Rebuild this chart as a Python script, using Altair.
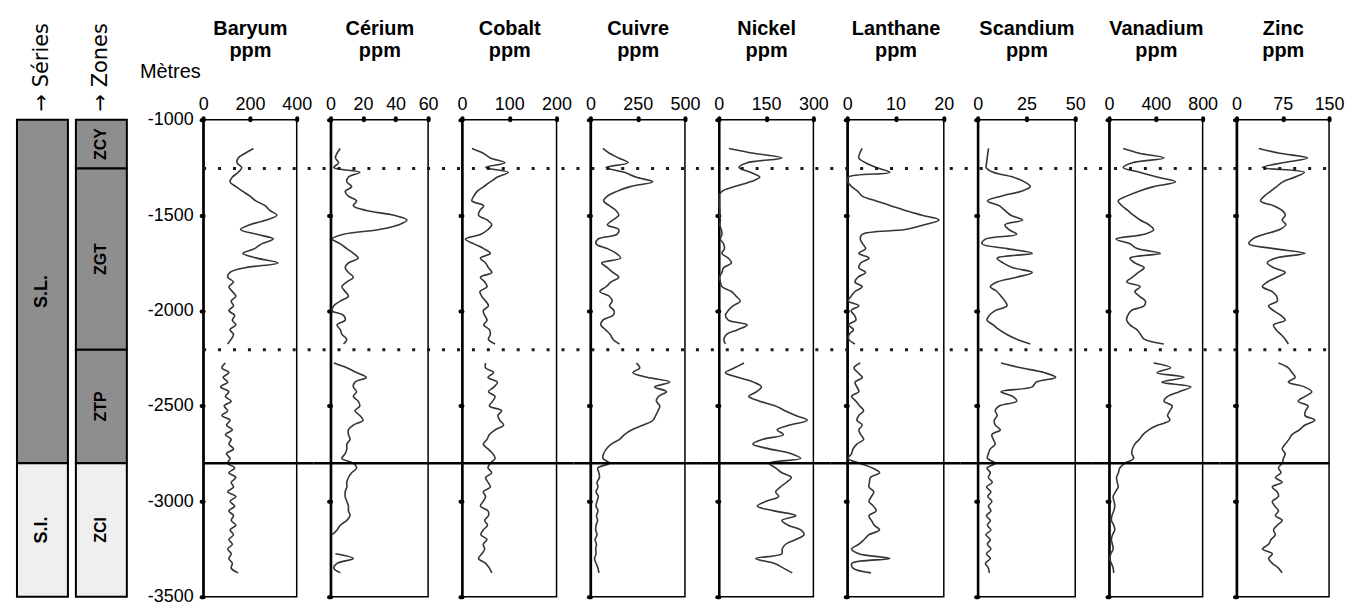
import altair as alt
import pandas as pd

N = None
FONT = "Liberation Sans"

ELEMENTS = ["Baryum", "Cérium", "Cobalt", "Cuivre", "Nickel",
            "Lanthane", "Scandium", "Vanadium", "Zinc"]
X_MAX = [400, 60, 200, 500, 300, 20, 50, 800, 150]
X_TICKS = [[0, 200, 400], [0, 20, 40, 60], [0, 100, 200], [0, 250, 500],
           [0, 150, 300], [0, 10, 20], [0, 25, 50], [0, 400, 800], [0, 75, 150]]
Y_TICKS = [-1000, -1500, -2000, -2500, -3000, -3500]

# sampling depths (m), every 25 m from -1150 to -3400
DEPTHS = list(range(-1150, -3401, -25))

BARYUM = [215, 180, 150, 145, 165, 150, 125, 115, 140, 170,
          200, 225, 265, 285, 315, 270, 200, 160, 230, 300,
          250, 220, 170, 230, 320, 180, 115, 105, 130, 110,
          125, 140, 120, 130, 110, 135, 125, 140, 115, 130,
          120, 105, N, N, N, 95, 80, 110, 85, 105,
          75, 110, 95, 120, 90, 105, 80, 115, 100, 125,
          95, 120, 110, 130, 100, 115, 105, 135, 110, 140,
          120, 130, 105, 140, 115, 135, 110, 130, 120, 140,
          115, 130, 110, 125, 105, 120, 110, 125, 120, 150,
          N]
CERIUM = [6, 4, 3, 5, 2, 18, 11, 10, 13, 9,
          11, 16, 14, 22, 39, 47, 42, 30, 8, 1,
          6, 10, 14, 17, 11, 9, 11, 14, 10, 7,
          9, 11, 6, 2, 1, 8, 9, 4, 6, 7,
          10, 8, N, N, N, 2, 10, 16, 22, 15,
          14, 16, 14, 17, 18, 15, 18, 20, 14, 11,
          11, 12, 10, 10, 9, 7, 14, 16, 13, 11,
          10, 10, 9, 9, 10, 11, 11, 12, 10, 6,
          4, 1, N, N, N, 3, 14, 4, 2, 6,
          N]
COBALT = [21, 45, 60, 91, 50, 98, 75, 60, 46, 32,
          25, 21, 46, 38, 35, 53, 63, 55, 40, 7,
          25, 46, 60, 39, 50, 56, 63, 39, 48, 53,
          38, 42, 50, 56, 45, 48, 53, 46, 58, 60,
          56, 70, N, N, N, 50, 50, 67, 55, 75,
          68, 56, 70, 65, 58, 84, 76, 80, 88, 70,
          58, 53, 45, 55, 65, 70, 60, 55, 63, 50,
          55, 60, 45, 50, 45, 39, 55, 56, 48, 54,
          45, 40, 53, 45, 48, 42, 35, 50, 58, 63,
          N]
CUIVRE = [66, 100, 150, 199, 83, 180, 240, 330, 210, 140,
          90, 70, 100, 135, 150, 119, 90, 150, 140, 40,
          30, 90, 137, 160, 60, 90, 119, 150, 110, 83,
          50, 100, 115, 101, 125, 120, 66, 55, 80, 105,
          119, 154, N, N, N, 243, 261, 225, 300, 420,
          340, 402, 360, 349, 367, 358, 345, 331, 280, 220,
          180, 154, 110, 85, 70, 66, 101, 39, 45, 48,
          35, 40, 30, 42, 35, 30, 40, 32, 38, 30,
          28, 35, 25, 32, 28, 30, 22, 30, 40, 45,
          N]
NICKEL = [32, 110, 200, 90, 64, 100, 130, 100, 50, 10,
          0, 2, 1, 3, 2, 5, 3, 8, 10, 5,
          15, 18, 10, 30, 40, 15, 10, 2, 5, 10,
          40, 55, 68, 45, 30, 21, 30, 90, 60, 25,
          16, 21, N, N, N, 80, 50, 21, 60, 110,
          135, 120, 95, 130, 180, 210, 244, 281, 225, 185,
          205, 140, 108, 160, 230, 260, 160, 180, 200, 230,
          215, 195, 180, 190, 150, 122, 175, 244, 200, 220,
          260, 270, 244, 212, 201, 200, 117, 175, 205, 233,
          N]
LANTHANE = [3.1, 2.6, 2.4, 3.8, 6.0, 8.8, 0.2, 0.1, 0.9, 2.2,
            3.1, 6.0, 9.0, 12.0, 15.5, 19.0, 16.0, 12.0, 3.1, 2.7,
            3.2, 3.8, 2.4, 4.5, 2.8, 2.4, 3.8, 2.2, 1.6, 3.1,
            1.6, 0.8, 0.2, 2.4, 0.8, 1.5, 1.8, 0.3, 1.3, 0.4,
            0.3, 1.6, N, N, N, 2.7, 1.4, 2.2, 3.1, 1.6,
            2.0, 2.4, 0.9, 1.8, 2.6, 3.4, 2.4, 2.0, 3.1, 2.4,
            2.8, 3.4, 2.0, 1.2, 0.9, 0.2, 2.5, 5.2, 6.7, 4.8,
            4.6, 4.5, 5.5, 5.0, 4.5, 5.4, 6.0, 4.5, 5.0, 5.6,
            6.7, 4.5, 3.5, 2.4, 0.9, 2.4, 8.8, 1.0, 1.2, 4.9,
            N]
SCANDIUM = [5.6, 5.2, 4.9, 4.6, 4.4, 8, 18, 24, 27, 22,
            12, 5, 11, 14, 17, 23, 14, 16, 20, 4,
            2.2, 15, 28, 10, 13, 18, 28, 20, 10, 6.5,
            9.9, 12, 14, 15, 9, 6, 4.8, 8, 11, 15,
            20, 27, N, N, N, 12, 22, 34, 40, 30,
            28, 12, 18, 20, 11, 9, 10, 8.5, 9, 11.6,
            7.3, 8, 9, 6.5, 5.5, 5, 9, 4.8, 6.5, 5.5,
            7.5, 4.5, 6.8, 5.2, 7.3, 5.5, 6.8, 4.5, 6.5, 5.0,
            6.8, 4.2, 6.5, 5.0, 6.8, 4.5, 6.5, 4.0, 5.5, 6.0,
            N]
VANADIUM = [121, 260, 470, 200, 121, 260, 410, 569, 381, 250,
            150, 78, 110, 160, 208, 266, 340, 381, 300, 60,
            179, 240, 439, 179, 220, 300, 250, 200, 150, 266,
            220, 260, 310, 300, 190, 160, 150, 179, 237, 270,
            300, 468, N, N, N, 381, 526, 410, 641, 450,
            700, 600, 500, 470, 540, 520, 500, 520, 420, 340,
            290, 260, 220, 200, 195, 210, 136, 92, 80, 64,
            70, 78, 55, 35, 42, 49, 40, 25, 20, 40,
            49, 30, 20, 28, 35, 15, 6, 20, 35, 40,
            N]
ZINC = [36, 70, 115, 75, 42, 110, 95, 75, 65, 55,
        45, 39, 60, 74, 79, 74, 80, 70, 45, 26,
        20, 60, 111, 63, 50, 60, 79, 65, 50, 42,
        58, 65, 66, 52, 60, 72, 79, 60, 64, 72,
        79, 84, N, N, N, 68, 84, 90, 95, 84,
        110, 122, 111, 100, 116, 112, 111, 127, 111, 102,
        90, 85, 79, 74, 79, 76, 74, 68, 72, 63,
        74, 58, 66, 68, 58, 62, 68, 63, 74, 66,
        60, 63, 56, 52, 42, 58, 52, 58, 68, 74,
        N]
SERIES = [BARYUM, CERIUM, COBALT, CUIVRE, NICKEL, LANTHANE, SCANDIUM, VANADIUM, ZINC]

# horizontal boundaries (m)
DOTTED_DEPTHS = [-1255, -2205]
SOLID_DEPTHS = [-2800]

# stratigraphic columns
UNIT_COL = ["Séries", "Séries", "Zones", "Zones", "Zones", "Zones"]
UNIT_LABEL = ["S.L.", "S.I.", "ZCY", "ZGT", "ZTP", "ZCI"]
UNIT_TOP = [-1000, -2800, -1000, -1255, -2205, -2800]
UNIT_BOTTOM = [-2800, -3500, -1255, -2205, -2800, -3500]
LOWER_UNITS = ["S.I.", "ZCI"]

# ---------------------------------------------------------------- data
rows = []
for name, vals in zip(ELEMENTS, SERIES):
    vals = (list(vals) + [N] * len(DEPTHS))[:len(DEPTHS)]
    seg, gap = 0, True
    for d, v in zip(DEPTHS, vals):
        if v is None:
            if not gap:
                seg += 1
            gap = True
            continue
        gap = False
        rows.append({"element": name, "depth": d, "value": v, "seg": seg})
df = pd.DataFrame(rows)

units = pd.DataFrame({"col": UNIT_COL, "label": UNIT_LABEL, "top": UNIT_TOP,
                      "bottom": UNIT_BOTTOM})
dotted_df = pd.DataFrame({"depth": DOTTED_DEPTHS})
solid_df = pd.DataFrame({"depth": SOLID_DEPTHS})

PANEL_W = [94, 98, 95, 95, 95, 97, 98, 94, 93]
H, GAP = 479, 34
STRIP_W = 153
yscale = alt.Scale(domain=[-3500, -1000], nice=False, zero=False)

# ---------------------------------------------------------------- strip columns
strip_x = alt.X(
    "col:N",
    scale=alt.Scale(domain=["Séries", "Zones"], paddingInner=0.135,
                    paddingOuter=0.36, align=0),
    axis=alt.Axis(orient="top", title="", labelAngle=270, labelAlign="left",
                  labelBaseline="middle", labelExpr="'→  ' + datum.label",
                  labelFontSize=21, labelPadding=9, labelColor="black",
                  ticks=False, domain=False, labelFont="DejaVu Sans"),
)
lower_test = "indexof(%s, datum.label) >= 0" % str(LOWER_UNITS).replace('"', "'")
bars = alt.Chart(units).mark_bar(stroke="black", strokeWidth=2).encode(
    x=strip_x,
    y=alt.Y("top:Q", scale=yscale, axis=None),
    y2="bottom:Q",
    fill=alt.condition(lower_test, alt.value("#efefef"), alt.value("#8e8e8e")),
)
labels = alt.Chart(units).transform_calculate(
    mid="(datum.top + datum.bottom) / 2"
).mark_text(angle=270, fontWeight="bold", font=FONT, color="black").encode(
    x=strip_x,
    y=alt.Y("mid:Q", scale=yscale, axis=None),
    text="label:N",
    size=alt.condition("datum.col == 'Séries'", alt.value(18), alt.value(16)),
)
strip = alt.layer(bars, labels).properties(
    width=STRIP_W, height=H, view=alt.ViewBackground(stroke="transparent")
)


# ---------------------------------------------------------------- panels
def panel(i):
    name = ELEMENTS[i]
    W = PANEL_W[i]
    first = i == 0
    last = i == len(ELEMENTS) - 1
    xscale = alt.Scale(domain=[0, X_MAX[i]], nice=False, zero=True)
    xaxis = alt.Axis(orient="top", values=X_TICKS[i], title=[name, "ppm"],
                     titleFontSize=20, titleFontWeight="bold", titleLineHeight=22,
                     titlePadding=36, titleColor="black", titleFont=FONT,
                     labelFontSize=18, labelPadding=4, labelFlush=False,
                     labelColor="black", labelFont=FONT, labelOverlap=False,
                     domain=False, ticks=True, tickSize=2, tickWidth=4,
                     tickCap="round", tickColor="black", grid=False)
    ykw = dict(values=Y_TICKS, domain=True, domainColor="black", domainWidth=2.5,
               ticks=True, tickSize=2, tickWidth=4, tickCap="round",
               tickColor="black", grid=False, labels=first)
    if first:
        ykw.update(title="Mètres", titleAngle=0, titleAlign="left",
                   titleBaseline="middle", titleX=-64, titleY=-49,
                   titleFontSize=20, titleFontWeight="normal", titleColor="black",
                   titleFont=FONT, labelFontSize=18, labelPadding=8,
                   labelColor="black", labelFont=FONT,
                   labelExpr="toString(datum.value)")
    else:
        ykw.update(title="")
    line = alt.Chart(df).transform_filter(
        alt.datum.element == name
    ).mark_line(color="#353535", strokeWidth=1.6, interpolate="catmull-rom").encode(
        x=alt.X("value:Q", scale=xscale, axis=xaxis),
        y=alt.Y("depth:Q", scale=yscale, axis=alt.Axis(**ykw)),
        detail="seg:N",
        order=alt.Order("depth:Q"),
    )
    left = 0 if first else -GAP / 2
    right = W if last else W + GAP / 2
    start = sum(PANEL_W[:i]) + GAP * i + left
    offset = start % 15
    dotted = alt.Chart(dotted_df).mark_rule(
        color="#1a1a1a", strokeWidth=3, strokeDash=[3, 12], strokeDashOffset=offset
    ).encode(y=alt.Y("depth:Q", scale=yscale), x=alt.value(left), x2=alt.value(right))
    solid = alt.Chart(solid_df).mark_rule(color="black", strokeWidth=2.5).encode(
        y=alt.Y("depth:Q", scale=yscale), x=alt.value(left), x2=alt.value(right)
    )
    return alt.layer(line, dotted, solid).properties(width=W, height=H)


panels = [panel(i) for i in range(len(ELEMENTS))]

chart = alt.hconcat(strip, *panels, spacing=GAP, bounds="flush").properties(
    padding={"left": 7, "top": 5, "right": 0, "bottom": 2}
).configure(font=FONT).configure_view(stroke="black", strokeWidth=1.5)

chart.save("out.html", embed_options={"renderer": "svg", "actions": False})
